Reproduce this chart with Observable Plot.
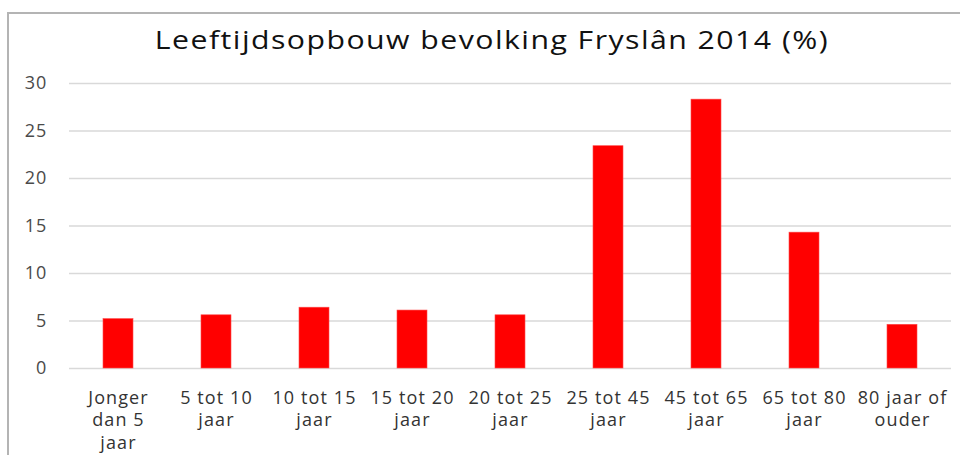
<!DOCTYPE html>
<html>
<head>
<meta charset="utf-8">
<script src="https://cdn.jsdelivr.net/npm/d3@7"></script>
<script src="https://cdn.jsdelivr.net/npm/@observablehq/plot@0.6"></script>
<style>
  html, body { margin: 0; padding: 0; background: #fff; }
  #wrap { position: relative; width: 960px; height: 455px; overflow: hidden; background: #fff; }
  #frame { position: absolute; left: 7px; top: 12px; width: 980px; height: 460px;
           border-left: 2px solid #b4b4b4; border-top: 2px solid #b4b4b4; box-sizing: border-box; }
  #title { position: absolute; left: 0; top: 22px; width: 984px; text-align: center;
           font-family: "Open Sans", sans-serif; font-size: 25px; color: #111;
           letter-spacing: 1.2px; line-height: 34px; white-space: nowrap;
           transform: scaleX(1.21); transform-origin: 492px 0; }
  #chart { position: absolute; left: 0; top: 0; }
  #chart svg text { letter-spacing: 1.1px; }
</style>
</head>
<body>
<div id="wrap">
  <div id="frame"></div>
  <div id="chart"></div>
  <div id="title">Leeftijdsopbouw bevolking Fryslân 2014 (%)</div>
</div>
<script>
const categories = [
  "Jonger\ndan 5\njaar",
  "5 tot 10\njaar",
  "10 tot 15\njaar",
  "15 tot 20\njaar",
  "20 tot 25\njaar",
  "25 tot 45\njaar",
  "45 tot 65\njaar",
  "65 tot 80\njaar",
  "80 jaar of\nouder"
];
const values = [5.2, 5.6, 6.4, 6.1, 5.6, 23.4, 28.3, 14.3, 4.6];
const yTicks = [0, 5, 10, 15, 20, 25, 30];

const data = categories.map((c, i) => ({category: c, value: values[i]}));

const chart = Plot.plot({
  width: 960,
  height: 455,
  marginTop: 83,
  marginBottom: 87,
  marginLeft: 69,
  marginRight: 9,
  style: {background: "transparent", fontFamily: "Open Sans, sans-serif", overflow: "visible"},
  x: {domain: categories, paddingInner: 0.69, paddingOuter: 0.345, label: null},
  y: {domain: [0, 30], ticks: yTicks, label: null},
  marks: [
    Plot.gridY(yTicks, {stroke: "#d9d9d9", strokeOpacity: 1, strokeWidth: 1.3}),
    Plot.barY(data, {x: "category", y: "value", fill: "#ff0000", stroke: "#ff4a4a", strokeWidth: 0.6}),
    Plot.axisY(yTicks, {tickSize: 0, tickPadding: 22, fontSize: 18, fill: "#4a4a4a", label: null}),
    Plot.axisX({tickSize: 0, tickPadding: 19, fontSize: 18, lineHeight: 1.26, fill: "#333333", label: null})
  ]
});
document.getElementById("chart").appendChild(chart);
</script>
</body>
</html>
